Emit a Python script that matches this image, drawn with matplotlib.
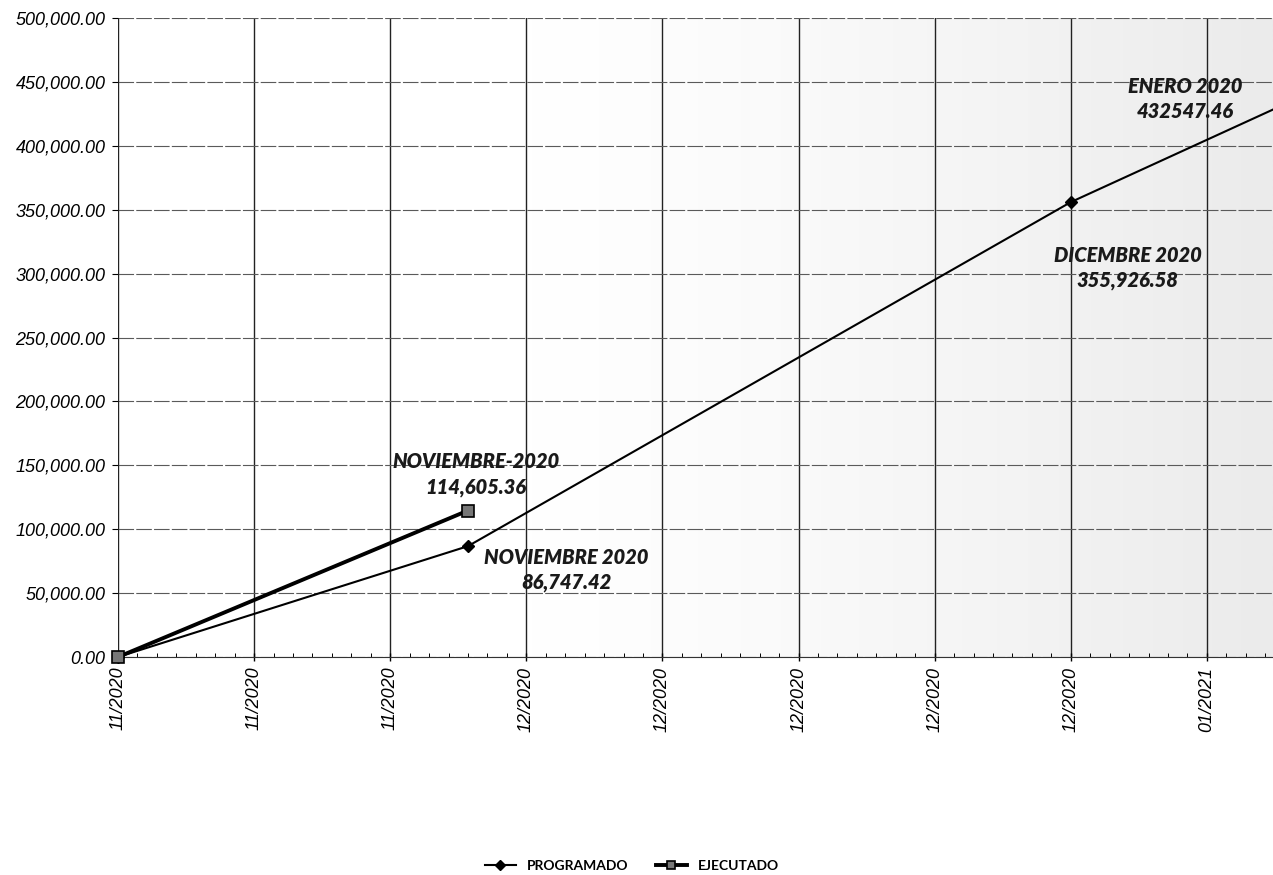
import matplotlib
matplotlib.use("Agg")
import matplotlib.pyplot as plt
import matplotlib.dates as mdates
import numpy as np
import pandas as pd

# datos
fechas_prog = pd.to_datetime(["2020-11-12", "2020-11-30", "2020-12-31", "2021-01-11"])
programado = [0.0, 86747.42, 355926.58, 432547.46]
fechas_ejec = pd.to_datetime(["2020-11-12", "2020-11-30"])
ejecutado = [0.0, 114605.36]

etiquetas = ["NOVIEMBRE-2020\n114,605.36", "NOVIEMBRE 2020\n86,747.42",
             "DICEMBRE 2020\n355,926.58", "ENERO 2020\n432547.46"]

inicio = pd.Timestamp("2020-11-12")
ticks_x = pd.date_range(inicio, periods=9, freq="7D")
fin = inicio + pd.Timedelta(days=59.4)

fig = plt.figure(figsize=(12.73, 8.75), dpi=100)
ax = fig.add_axes([118 / 1273, 1 - 657 / 875, 1 - 118 / 1273, (657 - 18) / 875])

# sombreado gris del escaneo (lado derecho)
grad = np.linspace(0, 1, 256) ** 1.3
ax.imshow(grad[np.newaxis, :], extent=[0.35, 1, 0, 1], transform=ax.transAxes,
          cmap=matplotlib.colors.LinearSegmentedColormap.from_list("g", ["#ffffff", "#ebebeb"]),
          aspect="auto", zorder=0)

ax.plot(fechas_prog, programado, color="black", lw=1.5, marker="D", ms=6,
        mfc="black", mec="black", label="PROGRAMADO", zorder=4, clip_on=False)
ax.plot(fechas_ejec, ejecutado, color="black", lw=2.8, marker="s", ms=8,
        mfc="#777777", mec="black", mew=1.2, label="EJECUTADO", zorder=5, clip_on=False)

ax.set_xlim(inicio, fin)
ax.set_ylim(0, 500000)
ax.set_yticks(range(0, 500001, 50000))
ax.yaxis.set_major_formatter(matplotlib.ticker.FuncFormatter(lambda v, p: f"{v:,.2f}"))

ax.set_xticks(ticks_x)
ax.xaxis.set_major_formatter(mdates.DateFormatter("%m/%Y"))
ax.xaxis.set_minor_locator(mdates.DayLocator())

for lbl in ax.get_yticklabels():
    lbl.set_fontstyle("italic")
    lbl.set_fontfamily("Liberation Sans")
    lbl.set_fontsize(13)
for lbl in ax.get_xticklabels():
    lbl.set_fontstyle("italic")
    lbl.set_fontfamily("Liberation Sans")
    lbl.set_fontsize(13)
    lbl.set_rotation(90)

ax.tick_params(axis="y", length=4, width=0.8, pad=5)
ax.tick_params(axis="x", which="major", length=6, width=1, direction="inout", pad=4)
ax.tick_params(axis="x", which="minor", length=3, width=0.7, direction="in")

ax.grid(axis="x", which="major", color="#222222", lw=1.0)
ax.grid(axis="y", color="#5a5a5a", lw=0.8, ls=(0, (14, 2)))
ax.set_axisbelow(True)
for s in ["top", "right"]:
    ax.spines[s].set_visible(False)
ax.spines["left"].set_visible(False)
ax.spines["bottom"].set_color("#333333")

# etiquetas de valores
fuente = dict(family="Lato", weight="heavy", style="italic", fontsize=14.5,
              ha="center", va="center", linespacing=1.35, color="#1a1a1a")
puntos = [(fechas_ejec[1], ejecutado[1], (8, 36)),
          (fechas_prog[1], programado[1], (98, -24)),
          (fechas_prog[2], programado[2], (57, -66)),
          (fechas_prog[3], programado[3], (-99, 5))]
for (fx, fy, off), txt in zip(puntos, etiquetas):
    ax.annotate(txt, xy=(fx, fy), xytext=off, textcoords="offset pixels",
                annotation_clip=False, **fuente)

leg = fig.legend(loc="center", bbox_to_anchor=(632 / 1273, 1 - 866 / 875), ncol=2,
                 frameon=False, handlelength=2.2, columnspacing=2.0,
                 prop={"family": "Lato", "weight": "bold", "size": 10})
for h in leg.legend_handles:
    h.set_markersize(5.5)

fig.savefig("out.png", dpi=100)
